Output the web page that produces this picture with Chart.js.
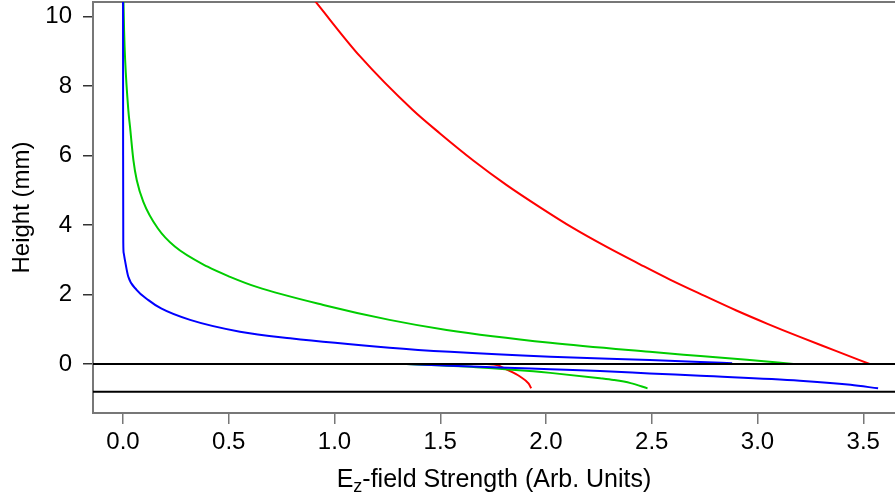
<!DOCTYPE html>
<html>
<head>
<meta charset="utf-8">
<script src="https://cdn.jsdelivr.net/npm/chart.js@4.4.0/dist/chart.umd.min.js"></script>
<style>
html,body{margin:0;padding:0;background:#fff;}
#wrap{width:895px;height:497px;}
</style>
</head>
<body>
<div id="wrap"><canvas id="c" width="895" height="497"></canvas></div>
<script>
// ---- data ----
const fieldTicks = [0, 0.5, 1.0, 1.5, 2.0, 2.5, 3.0, 3.5];
const heightTicks = [0, 2, 4, 6, 8, 10];
const boundaryHeights = [0, -0.8];

const redUpperE = [0.905, 1.12, 1.37, 1.50, 1.656, 1.814, 1.972, 2.129, 2.287, 2.444, 2.586, 2.75, 2.90, 3.05, 3.20, 3.37, 3.53];
const redUpperH = [10.47, 8.86, 7.31, 6.63, 5.86, 5.15, 4.51, 3.91, 3.37, 2.87, 2.43, 1.96, 1.54, 1.15, 0.78, 0.38, 0.0];
const redLowerE = [1.72, 1.767, 1.81, 1.877, 1.917, 1.93];
const redLowerH = [0.0, -0.03, -0.15, -0.36, -0.56, -0.70];

const greenUpperE = [0.002, 0.005, 0.01, 0.025, 0.033, 0.049, 0.065, 0.096, 0.165, 0.245, 0.40, 0.506, 0.632, 0.947, 1.26, 1.53, 2.02, 2.49, 2.73, 2.95, 3.17];
const greenUpperH = [10.45, 9.6, 8.75, 7.31, 6.83, 5.87, 5.29, 4.67, 3.9, 3.38, 2.8, 2.51, 2.22, 1.7, 1.27, 0.98, 0.61, 0.35, 0.23, 0.12, 0.0];
const greenLowerE = [1.34, 1.69, 1.94, 2.02, 2.255, 2.32, 2.40, 2.48];
const greenLowerH = [0.0, -0.10, -0.21, -0.255, -0.41, -0.46, -0.55, -0.70];

const blueUpperE = [0.0, 0.0004, 0.0012, 0.003, 0.009, 0.025, 0.065, 0.12, 0.18, 0.317, 0.553, 0.79, 1.26, 1.546, 2.02, 2.49, 2.73, 2.88];
const blueUpperH = [10.45, 6.0, 3.5, 3.2, 2.99, 2.51, 2.13, 1.84, 1.6, 1.27, 0.93, 0.74, 0.47, 0.35, 0.21, 0.115, 0.06, 0.02];
const blueLowerE = [1.34, 1.78, 2.02, 2.255, 2.49, 2.73, 3.2, 3.44, 3.57];
const blueLowerH = [0.0, -0.10, -0.15, -0.20, -0.27, -0.34, -0.48, -0.60, -0.70];

const xRange = [-0.142, 3.65];
const yRange = [-1.41, 10.42];

function pts(E, H){ return E.map((e,i)=>({x:e, y:H[i]})); }
function line(data, color, order){
  return {data, borderColor: color, borderWidth: 2, pointRadius: 0, showLine: true, fill: false,
          cubicInterpolationMode: 'monotone', order};
}

const datasets = [];
boundaryHeights.forEach(h => {
  datasets.push(Object.assign(line([{x: xRange[0]-0.1, y: h}, {x: xRange[1]+0.1, y: h}], '#000000', 0),
    {cubicInterpolationMode: 'default', tension: 0}));
});
datasets.push(line(pts(blueUpperE, blueUpperH), '#0000FF', 1));
datasets.push(line(pts(blueLowerE, blueLowerH), '#0000FF', 1));
datasets.push(line(pts(greenUpperE, greenUpperH), '#00CD00', 2));
datasets.push(line(pts(greenLowerE, greenLowerH), '#00CD00', 2));
datasets.push(line(pts(redUpperE, redUpperH), '#FF0000', 3));
datasets.push(line(pts(redLowerE, redLowerH), '#FF0000', 3));

const FONT = "'Liberation Sans', Arial, Helvetica, sans-serif";

const xTitlePlugin = {
  id: 'xTitle',
  afterDraw(chart){
    const ctx = chart.ctx;
    const area = chart.chartArea;
    const big = 25, small = 18;
    const cx = (area.left + area.right) / 2;
    const base = 487;
    ctx.save();
    ctx.fillStyle = '#000';
    ctx.textBaseline = 'alphabetic';
    ctx.textAlign = 'left';
    ctx.font = big + 'px ' + FONT;
    const wE = ctx.measureText('E').width;
    const rest = '-field Strength (Arb. Units)';
    const wR = ctx.measureText(rest).width;
    ctx.font = small + 'px ' + FONT;
    const wZ = ctx.measureText('z').width;
    let x = cx - (wE + wZ + wR) / 2;
    ctx.font = big + 'px ' + FONT;
    ctx.fillText('E', x, base);
    x += wE;
    ctx.font = small + 'px ' + FONT;
    ctx.fillText('z', x, base + 5);
    x += wZ;
    ctx.font = big + 'px ' + FONT;
    ctx.fillText(rest, x, base);
    ctx.restore();
  }
};

new Chart(document.getElementById('c'), {
  type: 'scatter',
  data: { datasets },
  plugins: [xTitlePlugin],
  options: {
    responsive: false,
    animation: false,
    devicePixelRatio: 1,
    layout: { padding: 0 },
    plugins: { legend: { display: false }, tooltip: { enabled: false } },
    scales: {
      x: {
        type: 'linear', position: 'bottom',
        min: xRange[0], max: xRange[1],
        afterBuildTicks: s => { s.ticks = fieldTicks.map(v => ({value: v})); },
        afterFit: s => { s.height = 84; s.paddingLeft = 0; s.paddingRight = 0; },
        ticks: { callback: v => Number(v).toFixed(1), font: { size: 24, family: FONT }, color: '#000', padding: 4, maxRotation: 0, autoSkip: false },
        grid: { drawOnChartArea: false, drawTicks: true, tickLength: 11, color: '#777', lineWidth: 1.5 },
        border: { display: true, color: '#777', width: 2 }
      },
      x2: {
        type: 'linear', position: 'top',
        min: xRange[0], max: xRange[1],
        afterFit: s => { s.height = 2; s.paddingLeft = 0; s.paddingRight = 0; },
        ticks: { display: false },
        grid: { display: false, drawTicks: false },
        border: { display: true, color: '#777', width: 2 }
      },
      y: {
        type: 'linear', position: 'left',
        min: yRange[0], max: yRange[1],
        afterBuildTicks: s => { s.ticks = heightTicks.map(v => ({value: v})); },
        afterFit: s => { s.width = 93; s.paddingTop = 0; s.paddingBottom = 0; },
        ticks: { callback: v => String(v), font: { size: 24, family: FONT }, color: '#000', padding: 11, autoSkip: false },
        grid: { drawOnChartArea: false, drawTicks: true, tickLength: 10, color: '#333', lineWidth: 1.5 },
        border: { display: true, color: '#777', width: 2 },
        title: { display: true, text: 'Height (mm)', font: { size: 24, family: FONT }, color: '#000', padding: { top: 8, bottom: 0 } }
      }
    }
  }
});
</script>
</body>
</html>
